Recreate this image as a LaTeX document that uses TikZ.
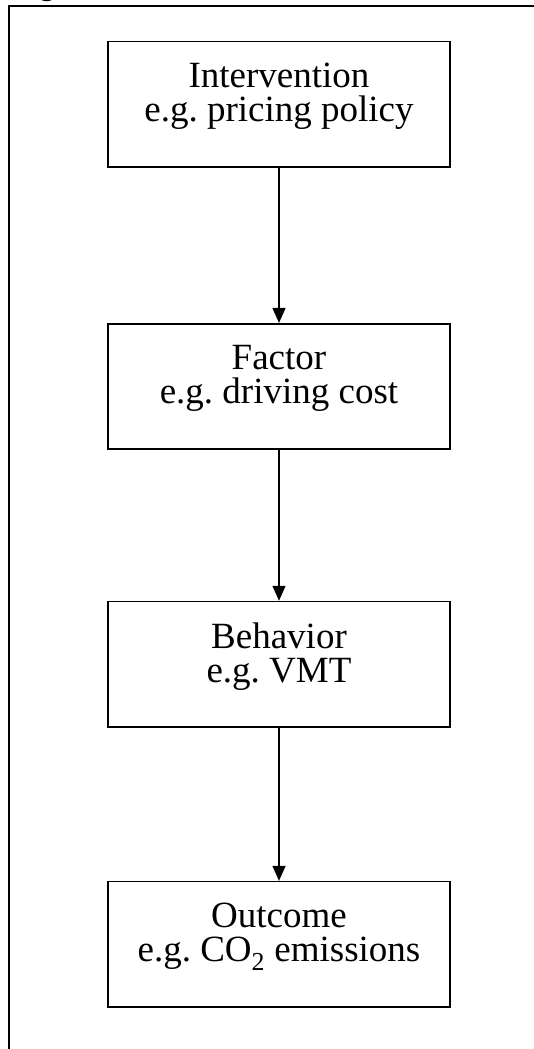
\documentclass[tikz,border=0pt]{standalone}
\usepackage{fontspec}
\setmainfont{Liberation Serif}
\usetikzlibrary{positioning}
\usetikzlibrary{arrows.meta}

\tikzset{
  stagebox/.style={draw, line width=1.6pt, minimum width=342pt, minimum height=125.5pt,
    align=center, inner sep=0pt, text depth=24pt, font=\fontsize{37}{34}\selectfont\frenchspacing},
  flow/.style={line width=1.3pt, -{Triangle[width=13pt,length=15pt]}},
}

\begin{document}
\begin{tikzpicture}[x=1pt,y=-1pt]
\useasboundingbox (0,0) rectangle (534,1049);

% frame round the figure
\coordinate (TL) at (9,6);
\coordinate (TR) at (534,6);
\coordinate (BL) at (9,1049);
\draw[line width=1.6pt] (TR)--(TL)--(BL);
\node[anchor=base, font=\bfseries\fontsize{28}{28}\selectfont] (fig) at (47,-4) {g};

\node[stagebox] (interv) at (279,104.4) {Intervention\\e.g. pricing policy};
\node[stagebox, below=155pt of interv] (factor) {Factor\\e.g. driving cost};
\node[stagebox, below=150.7pt of factor] (behav) {Behavior\\e.g. VMT};
\node[stagebox, below=153pt of behav] (outcome) {Outcome\\e.g. CO\textsubscript{2} emissions};

\draw[flow] (interv)--(factor);
\draw[flow] (factor)--(behav);
\draw[flow] (behav)--(outcome);
\end{tikzpicture}
\end{document}
